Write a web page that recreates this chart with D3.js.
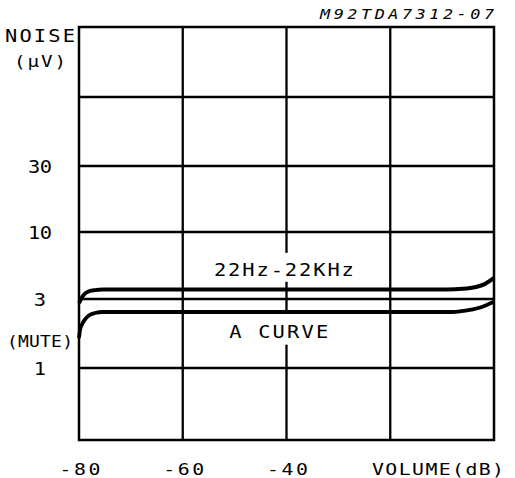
<!DOCTYPE html>
<html><head><meta charset="utf-8">
<script src="https://cdn.jsdelivr.net/npm/d3@7"></script>
<style>
body{margin:0;background:#fff}
text{font-family:"DejaVu Sans Mono",monospace;fill:#000}
</style>
</head><body>
<svg id="c" width="515" height="478"></svg>
<script>
// ---- data ----
const volumeGrid = [-80, -60, -40, -20, 0];
const volumeLabelValues = [-80, -60, -40];
const volumeLabelTexts = ["-80", "-60", "-40"];
const noiseGrid = [0.3, 1, 3, 10, 30, 100, 330];
const noiseLabelValues = [30, 10, 3, 1.55, 1];
const noiseLabelTexts = ["30", "10", "3", "(MUTE)", "1"];

const volume22k = [-80, -79.2, -78.3, -76.9, -75.4, -60, -40, -20, -9, -6, -3.5, -1.8, 0];
const noise22k  = [2.81, 3.19, 3.42, 3.52, 3.56, 3.56, 3.56, 3.56, 3.56, 3.6, 3.72, 3.92, 4.38];
const volumeA = [-80, -79.8, -79.4, -78.8, -78.1, -76.9, -75.4, -60, -40, -20, -8, -5.5, -3, -1.5, 0];
const noiseA  = [1.61, 1.83, 2.01, 2.18, 2.31, 2.40, 2.44, 2.44, 2.44, 2.44, 2.44, 2.49, 2.6, 2.72, 2.87];

const seriesNames = ["22Hz-22KHz", "A CURVE"];
const seriesLabelPos = [[-40.5, 4.55], [-41.5, 1.62]];

// ---- scales ----
const x = d3.scaleLinear().domain([-80, 0]).range([79, 494]);
const y = d3.scaleLog().domain(noiseGrid).range([440, 368, 299, 232, 166, 97, 27]);

const svg = d3.select("#c");
const g = svg.append("g");
const SX = 1.2;

function label(parent, txt, px, py, size, len, anchor, italic) {
  const t = parent.append("text")
    .attr("transform", `translate(${px},${py}) scale(${SX},1)`)
    .attr("text-anchor", anchor || "middle")
    .attr("font-size", size)
    .attr("textLength", len / SX)
    .attr("lengthAdjust", "spacing")
    .text(txt);
  if (italic) t.attr("font-style", "italic");
  return t;
}

// grid
g.selectAll(".vg").data(volumeGrid.slice(1, -1)).join("line")
  .attr("x1", d => x(d)).attr("x2", d => x(d))
  .attr("y1", y(330)).attr("y2", y(0.3))
  .attr("stroke", "#000").attr("stroke-width", 2.3);
g.selectAll(".hg").data(noiseGrid.slice(1, -1)).join("line")
  .attr("x1", x(-80)).attr("x2", x(0))
  .attr("y1", d => y(d)).attr("y2", d => y(d))
  .attr("stroke", "#000").attr("stroke-width", 2.3);

// series labels with knockouts
const lg = g.append("g");
seriesNames.forEach((name, i) => {
  const px = x(seriesLabelPos[i][0]), py = y(seriesLabelPos[i][1]);
  const w = i === 0 ? 140 : 99;
  const top = i === 0 ? py - 23 : py - 24;
  const bot = i === 0 ? py + 6 : py + 7;
  lg.append("rect").attr("x", px - w / 2 - 4).attr("y", top)
    .attr("width", w + 8).attr("height", bot - top).attr("fill", "#fff");
  label(lg, name, px, py, 17, w, "middle");
});

// frame
g.append("rect")
  .attr("x", x(-80)).attr("y", y(330))
  .attr("width", x(0) - x(-80)).attr("height", y(0.3) - y(330))
  .attr("fill", "none").attr("stroke", "#000").attr("stroke-width", 2.5);

// curves
const line = d3.line().curve(d3.curveMonotoneX);
g.append("path")
  .attr("d", line(volume22k.map((v, i) => [x(v), y(noise22k[i])])))
  .attr("fill", "none").attr("stroke", "#000").attr("stroke-width", 4);
g.append("path")
  .attr("d", line(volumeA.map((v, i) => [x(v), y(noiseA[i])])))
  .attr("fill", "none").attr("stroke", "#000").attr("stroke-width", 3.8);

// y labels
const yLen = {"30": 24, "10": 24, "3": 11, "(MUTE)": 66, "1": 10};
noiseLabelValues.forEach((v, i) => {
  const t = noiseLabelTexts[i];
  label(g, t, 40, y(v) + 6.5, t === "(MUTE)" ? 15 : 17, yLen[t], "middle");
});

// x labels
volumeLabelValues.forEach((v, i) => {
  label(g, volumeLabelTexts[i], x(v) + 1, 474.5, 16.5, 41, "middle");
});

// axis titles
label(g, "NOISE", 40, 41.5, 17, 70, "middle");
label(g, "(µV)", 40, 67, 16, 52, "middle");
label(g, "VOLUME(dB)", 504, 474.5, 16.5, 132, "end");
label(g, "M92TDA7312-07", 494, 18.5, 14, 174, "end", true);
</script>
</body></html>
